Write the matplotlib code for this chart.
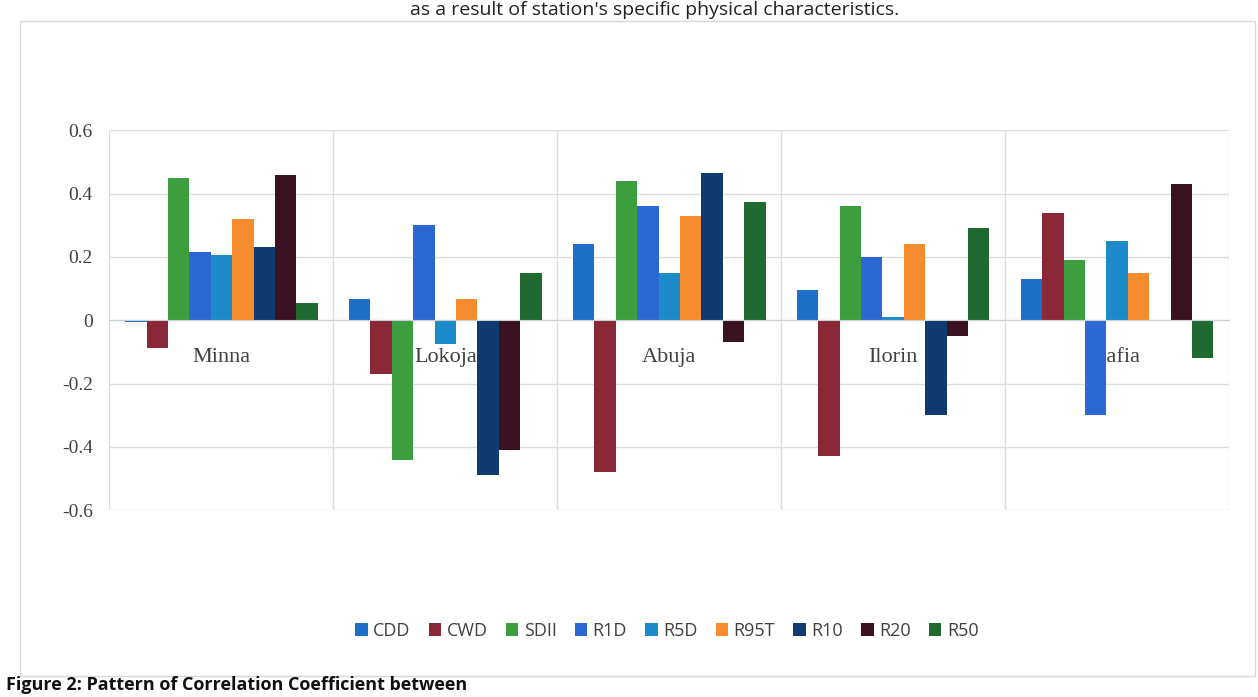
import matplotlib
matplotlib.use("Agg")
import matplotlib.pyplot as plt
import numpy as np
from matplotlib.patches import Rectangle

stations = ["Minna", "Lokoja", "Abuja", "Ilorin", "Lafia"]
series_names = ["CDD", "CWD", "SDII", "R1D", "R5D", "R95T", "R10", "R20", "R50"]
CDD  = [-0.005, 0.066, 0.24, 0.095, 0.13]
CWD  = [-0.087, -0.17, -0.48, -0.43, 0.34]
SDII = [0.45, -0.44, 0.44, 0.36, 0.19]
R1D  = [0.215, 0.30, 0.36, 0.20, -0.30]
R5D  = [0.205, -0.074, 0.15, 0.01, 0.25]
R95T = [0.32, 0.066, 0.33, 0.24, 0.15]
R10  = [0.23, -0.49, 0.465, -0.30, 0.0]
R20  = [0.46, -0.41, -0.07, -0.05, 0.43]
R50  = [0.055, 0.15, 0.375, 0.29, -0.12]
yticks = [-0.6, -0.4, -0.2, 0, 0.2, 0.4, 0.6]
ytick_labels = ["-0.6", "-0.4", "-0.2", "0", "0.2", "0.4", "0.6"]

values = [CDD, CWD, SDII, R1D, R5D, R95T, R10, R20, R50]
colors = ["#1f6fc8", "#8a2838", "#3c9e3e", "#2c68d2", "#1d8ac9",
          "#f68b30", "#0f3b70", "#3b1222", "#1f6a2e"]

fig = plt.figure(figsize=(12.58, 6.97), dpi=100)
fig.patch.set_facecolor("white")

# chart-area border
fig.patches.append(Rectangle((0.016, 0.03), 0.982, 0.94, transform=fig.transFigure,
                             fill=False, edgecolor="#d8d8d8", linewidth=1.0))

ax = fig.add_axes([0.087, 0.268, 0.89, 0.545])
x = np.arange(len(stations))
n = len(series_names)
group_w = 0.86
bw = group_w / n
for i, (name, vals, c) in enumerate(zip(series_names, values, colors)):
    ax.bar(x - group_w / 2 + bw * (i + 0.5), vals, width=bw, color=c,
           label=name, zorder=2)

ax.set_xlim(-0.5, len(stations) - 0.5)
ax.set_ylim(-0.6, 0.6)
ax.set_yticks(yticks)
ax.set_yticklabels(ytick_labels, family="Liberation Serif", fontsize=14, color="#404040")
ax.tick_params(axis="y", length=0, pad=12)

# horizontal gridlines
for yv in yticks:
    ax.axhline(yv, color="#d9dde0", linewidth=1.0, zorder=0)
# vertical gridlines between categories
for b in np.arange(-0.5, len(stations), 1.0):
    ax.axvline(b, color="#d9dde0", linewidth=1.0, zorder=0)

ax.set_axisbelow(True)
ax.spines["bottom"].set_position(("data", 0))
ax.spines["bottom"].set_color("#c8d0d4")
for s in ["top", "right", "left"]:
    ax.spines[s].set_visible(False)
ax.set_xticks(x)
ax.set_xticklabels(stations, family="Liberation Serif", fontsize=16, color="#404040")
ax.tick_params(axis="x", length=0, pad=20)

leg = fig.legend(loc="center", bbox_to_anchor=(0.53, 0.095), ncol=n, frameon=False,
                 prop={"family": "Open Sans", "size": 13}, handlelength=0.7,
                 handleheight=0.7, handletextpad=0.3, columnspacing=1.0)
for t in leg.get_texts():
    t.set_color("#404040")

fig.text(0.52, 0.985, "as a result of station's specific physical characteristics.",
         ha="center", va="center", fontsize=14, family="Open Sans", color="#222222")
fig.text(0.005, 0.005, "Figure 2: Pattern of Correlation Coefficient between",
         ha="left", va="bottom", fontsize=13, family="Open Sans", fontweight="bold",
         color="#111111")

fig.savefig("out.png", dpi=100, facecolor="white")
